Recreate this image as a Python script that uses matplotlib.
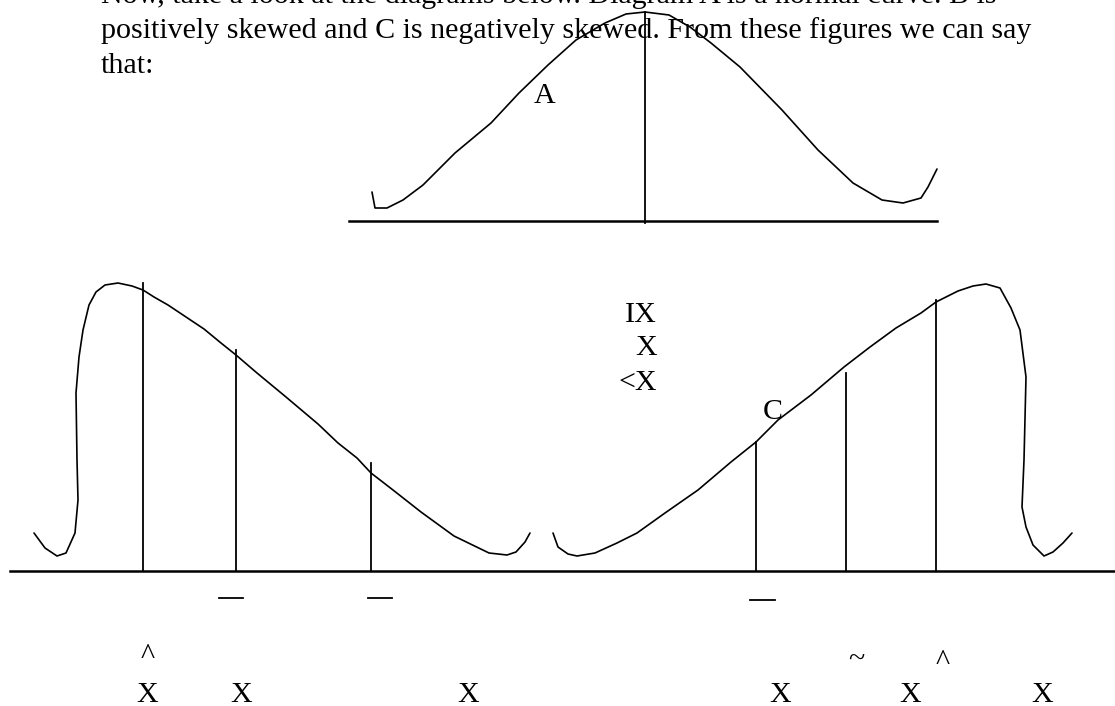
import matplotlib
matplotlib.use("Agg")
import matplotlib.pyplot as plt

# ---------------- data (pixel coordinates) ----------------
text_lines = [
    "Now, take a look at the diagrams below. Diagram A is a normal curve. B is",
    "positively skewed and C is negatively skewed. From these figures we can say",
    "that:",
]
text_baselines = [3, 37.5, 73]

# Curve A (normal)
a_x = [372, 375, 387, 403, 423, 440, 455, 491, 519, 548, 576, 605, 626, 645,
       669, 690, 711, 740, 782, 818, 853, 882, 903, 921, 928, 937]
a_y = [192, 208, 208, 200, 185, 168, 153, 123, 93, 65, 40, 23, 14, 12,
       15, 27, 43, 67, 110, 150, 183, 200, 203, 198, 187, 169]
a_base_x = [349, 937]
a_base_y = 221
a_mark_x = 645
a_mark_top = 12

# Curve B (positively skewed)
b_x = [34, 45, 57, 66, 75, 78, 77, 76, 79, 83, 89, 96, 105, 118, 132, 143, 154,
       168, 186, 204, 221, 236, 257, 286, 318, 338, 357, 371, 393, 421, 454,
       489, 507, 516, 525, 530]
b_y = [533, 548, 556, 553, 533, 500, 460, 393, 357, 330, 305, 292, 285, 283,
       286, 290, 297, 305, 317, 329, 343, 355, 373, 397, 424, 443, 458, 473,
       490, 512, 536, 553, 555, 552, 542, 533]
b_marks_x = [143, 236, 371]
b_marks_top = [283, 350, 463]

# Curve C (negatively skewed)
c_x = [553, 558, 568, 577, 595, 617, 637, 665, 698, 731, 756, 778, 811, 844,
       870, 896, 921, 936, 958, 973, 986, 1000, 1011, 1020, 1026, 1024, 1022,
       1026, 1033, 1044, 1053, 1063, 1072]
c_y = [533, 547, 554, 556, 553, 543, 533, 513, 490, 462, 442, 420, 395, 367,
       347, 328, 313, 302, 291, 286, 284, 288, 308, 330, 377, 460, 507, 527,
       545, 556, 552, 543, 533]
c_marks_x = [756, 846, 936]
c_marks_top = [442, 373, 300]

main_base_x = [10, 1115]
main_base_y = 571

# small dashes under the axis
dash_x0 = [219, 368, 750]
dash_x1 = [243, 392, 775]
dash_y = [598, 598, 600]

# labels
label_text = ["A", "C", "IX", "X", "<X"]
label_x = [545, 773, 657, 657, 657]
label_y = [103, 419, 322, 355, 390]
label_ha = ["center", "center", "right", "right", "right"]

x_label_x = [147, 241, 468, 780, 910, 1042]
x_label_y = 702
accent_text = ["^", "~", "^"]
accent_x = [148, 856, 943]
accent_y = [664, 668, 670]

# ---------------- drawing ----------------
W, H = 1115, 706
fig = plt.figure(figsize=(W / 100, H / 100), dpi=100)
ax = fig.add_axes([0, 0, 1, 1])
ax.set_xlim(0, W)
ax.set_ylim(H, 0)
ax.axis("off")

serif = ["Liberation Serif", "DejaVu Serif"]
lw_curve = 1.2
lw_line = 1.3
col = "black"

# top paragraph: fit line 2 width to the picture
fs = 19
probe = ax.text(101, text_baselines[1], text_lines[1], fontsize=fs,
                family=serif, va="baseline", ha="left")
fig.canvas.draw()
bb = probe.get_window_extent(renderer=fig.canvas.get_renderer())
probe.remove()
fs = fs * (1032 - 101) / bb.width
for t, yb in zip(text_lines, text_baselines):
    ax.text(101, yb, t, fontsize=fs, family=serif, va="baseline", ha="left",
            color=col)

# curve A
ax.plot(a_x, a_y, color=col, lw=lw_curve, solid_capstyle="round",
        solid_joinstyle="round")
ax.plot(a_base_x, [a_base_y, a_base_y], color=col, lw=1.8)
ax.plot([a_mark_x, a_mark_x], [a_mark_top, a_base_y + 2], color=col, lw=lw_line)

# curve B
ax.plot(b_x, b_y, color=col, lw=lw_curve, solid_capstyle="round",
        solid_joinstyle="round")
for x, top in zip(b_marks_x, b_marks_top):
    ax.plot([x, x], [top, main_base_y], color=col, lw=lw_line)

# curve C
ax.plot(c_x, c_y, color=col, lw=lw_curve, solid_capstyle="round",
        solid_joinstyle="round")
for x, top in zip(c_marks_x, c_marks_top):
    ax.plot([x, x], [top, main_base_y], color=col, lw=lw_line)

# main axis
ax.plot(main_base_x, [main_base_y, main_base_y], color=col, lw=1.8)

# dashes
for x0, x1, y in zip(dash_x0, dash_x1, dash_y):
    ax.plot([x0, x1], [y, y], color=col, lw=1.3)

# labels
for t, x, y, ha in zip(label_text, label_x, label_y, label_ha):
    ax.text(x, y, t, fontsize=fs, family=serif, va="baseline", ha=ha, color=col)

for x in x_label_x:
    ax.text(x, x_label_y, "X", fontsize=fs, family=serif, va="baseline",
            ha="center", color=col)
for t, x, y in zip(accent_text, accent_x, accent_y):
    ax.text(x, y, t, fontsize=fs, family=serif, va="baseline",
            ha="center", color=col)

fig.savefig("out.png", dpi=100)
